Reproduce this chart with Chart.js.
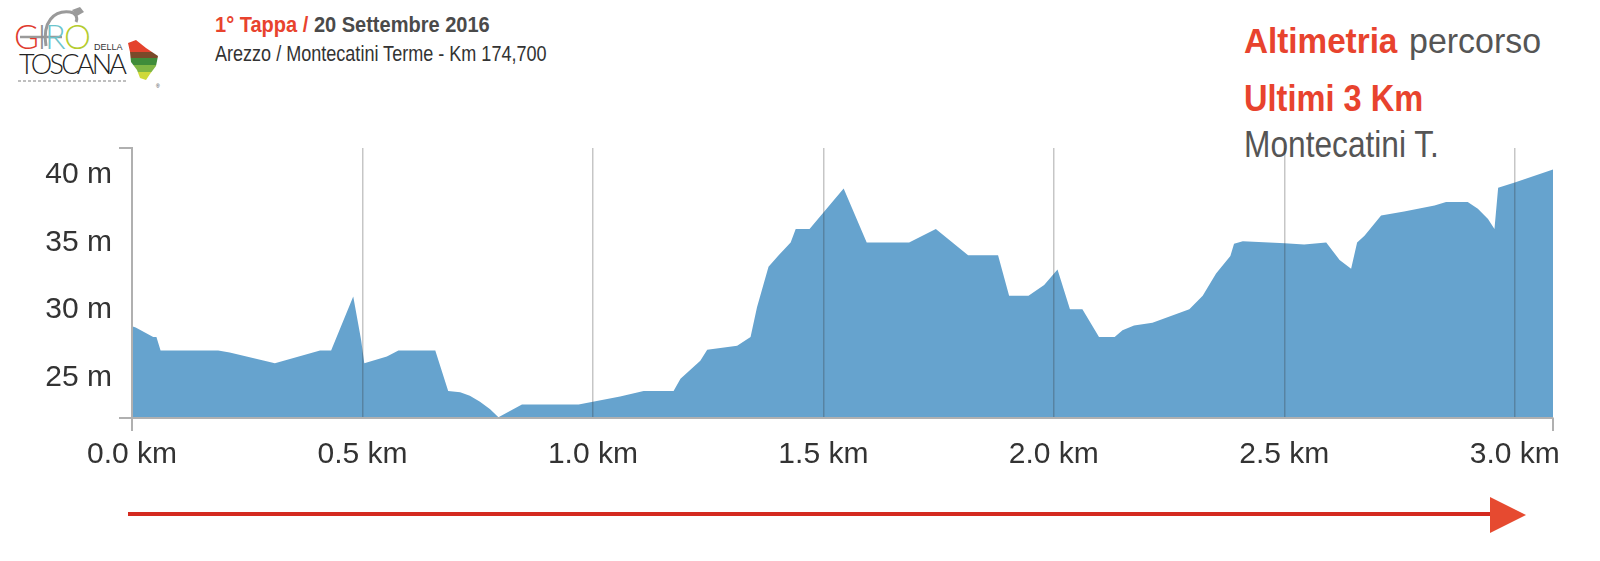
<!DOCTYPE html>
<html lang="it">
<head>
<meta charset="utf-8">
<title>Altimetria percorso · Ultimi 3 Km</title>
<script src="https://cdn.jsdelivr.net/npm/chart.js@4.4.1/dist/chart.umd.min.js"></script>
<style>
  html, body { margin: 0; padding: 0; background: #fff; }
  #page { position: relative; width: 1600px; height: 561px; overflow: hidden;
          font-family: 'Liberation Sans', Arial, sans-serif; }
  #wrap { position: absolute; left: 0; top: 0; width: 1600px; height: 561px; }
  .t { position: absolute; white-space: nowrap; transform-origin: 0 0; line-height: 1; }
  .red { color: #e8432e; }
  .grey { color: #555; }
</style>
</head>
<body>
<div id="page">
  <!-- logo -->
  <svg style="position:absolute;left:0;top:0" width="170" height="92">
    <path d="M46 46 C42 22 54 10 70 12 C76 13 78 18 76 22" fill="none" stroke="#9a9a9a" stroke-width="3"/>
    <path d="M72 10 l8 -3 l4 5 l-7 4 z" fill="#9a9a9a"/>
    <line x1="20" y1="37" x2="62" y2="37" stroke="#9a9a9a" stroke-width="2.5"/>
    <text x="14" y="49" font-family="Lato, 'Open Sans', sans-serif" font-weight="300" font-size="34" textLength="77">
      <tspan fill="#e03a2e">G</tspan><tspan fill="#8f8f8f">I</tspan><tspan fill="#6bc4cc">R</tspan><tspan fill="#b5cc2e">O</tspan>
    </text>
    <text x="94" y="50" font-family="'Liberation Sans', Arial" font-size="9" fill="#333">DELLA</text>
    <text x="19" y="74" font-family="Lato, 'Open Sans', sans-serif" font-weight="300" font-size="27" fill="#222" textLength="108">TOSCANA</text>
    <line x1="18" y1="81" x2="128" y2="81" stroke="#aaa" stroke-width="1.5" stroke-dasharray="3 2"/>
    <clipPath id="tus"><path d="M128 43 L136 40 L146 48 L158 56 L156 66 L150 74 L146 80 L140 78 L137 70 L131 62 L130 52 Z"/></clipPath>
    <g clip-path="url(#tus)">
      <rect x="126" y="38" width="34" height="14" fill="#e4432d"/>
      <rect x="126" y="52" width="34" height="6" fill="#7a4a2a"/>
      <rect x="126" y="58" width="34" height="7" fill="#3f8c3a"/>
      <rect x="126" y="65" width="34" height="7" fill="#7fb644"/>
      <rect x="126" y="72" width="34" height="10" fill="#cfd93a"/>
    </g>
    <text x="156" y="88" font-family="'Liberation Sans', Arial" font-size="5" fill="#333">®</text>
  </svg>

  <!-- intestazione -->
  <div class="t" style="left:215px;top:14px;font-size:22px;font-weight:bold;transform:scaleX(0.91)">
    <span class="red">1° Tappa /</span> <span style="color:#4a4a4a">20 Settembre 2016</span></div>
  <div class="t" style="left:215px;top:43px;font-size:22px;color:#333;transform:scaleX(0.82)">Arezzo / Montecatini Terme - Km 174,700</div>

  <div class="t red" style="left:1244px;top:23px;font-size:35px;font-weight:bold;transform:scaleX(0.95)">Altimetria</div>
  <div class="t grey" style="left:1409px;top:23px;font-size:35px;transform:scaleX(0.97)">percorso</div>
  <div class="t red" style="left:1244px;top:80px;font-size:37px;font-weight:bold;transform:scaleX(0.88)">Ultimi 3 Km</div>
  <div class="t grey" style="left:1244px;top:127px;font-size:36px;transform:scaleX(0.88)">Montecatini T.</div>

  <!-- freccia direzione -->
  <div style="position:absolute;left:128px;top:512px;width:1363px;height:4px;background:#d42a1f"></div>
  <div style="position:absolute;left:1490px;top:497px;width:0;height:0;border-top:18px solid transparent;border-bottom:18px solid transparent;border-left:36px solid #e64a30"></div>

  <div id="wrap"><canvas id="chart"></canvas></div>
</div>

<script>
// Profilo altimetrico ultimi 3 km
const distanceKm = [
  0, 0.008, 0.046, 0.053, 0.062, 0.187, 0.212, 0.31, 0.408, 0.432, 0.48, 0.497, 0.504, 0.553, 0.578,
  0.658, 0.686, 0.712, 0.733, 0.755, 0.777, 0.795, 0.846, 0.969, 1.059, 1.11, 1.175,
  1.19, 1.233, 1.248, 1.313, 1.342, 1.356, 1.381, 1.403, 1.429, 1.44, 1.47, 1.544,
  1.594, 1.686, 1.744, 1.814, 1.879, 1.903, 1.945, 1.979, 2.008, 2.035, 2.062, 2.098,
  2.132, 2.149, 2.174, 2.214, 2.294, 2.323, 2.352, 2.383, 2.391, 2.41, 2.501, 2.543,
  2.591, 2.62, 2.645, 2.658, 2.674, 2.71, 2.76, 2.826, 2.851, 2.898, 2.92, 2.942,
  2.956, 2.964, 3.0, 3.083,
];
const elevationM = [
  28.8, 28.7, 28.0, 28.0, 27.0, 27.0, 26.85, 26.05, 27.0, 27.0, 31.0, 27.8, 26.05, 26.55, 27.0,
  27.0, 24.0, 23.9, 23.65, 23.2, 22.65, 22.05, 23.0, 23.0, 23.6, 24.0, 24.0,
  24.9, 26.25, 27.05, 27.35, 28.0, 30.2, 33.2, 34.05, 35.0, 36.0, 36.0, 39.0,
  35.0, 35.0, 36.0, 34.05, 34.05, 31.05, 31.05, 31.85, 33.0, 30.05, 30.05, 28.0,
  28.0, 28.5, 28.85, 29.05, 30.05, 31.05, 32.7, 34.0, 34.9, 35.1, 34.95, 34.85,
  35.0, 33.7, 33.05, 35.0, 35.5, 37.0, 37.3, 37.75, 38.0, 38.0, 37.5, 36.75,
  36.0, 39.05, 39.45, 40.4,
];

const xTickValues = [0, 0.5, 1.0, 1.5, 2.0, 2.5, 3.0];
const xTickLabels = ['0.0 km', '0.5 km', '1.0 km', '1.5 km', '2.0 km', '2.5 km', '3.0 km'];
const yTickValues = [25, 30, 35, 40];
const yTickLabels = ['25 m', '30 m', '35 m', '40 m'];

const COLOR_FILL  = '#66a3ce';
const COLOR_AXIS  = '#b0b0b0';
const COLOR_GRID  = 'rgba(50,50,50,0.28)';
const COLOR_TICK  = '#333';
const TICK_FONT   = { family: "'Liberation Sans', Arial, sans-serif", size: 30 };

// tacche esterne agli estremi degli assi (stile d3)
const outerTicks = {
  id: 'outerTicks',
  afterDraw(chart) {
    const { ctx, chartArea: a } = chart;
    ctx.save();
    ctx.strokeStyle = COLOR_AXIS;
    ctx.lineWidth = 2;
    ctx.beginPath();
    ctx.moveTo(a.left - 13, a.top); ctx.lineTo(a.left, a.top);
    ctx.moveTo(a.left - 13, a.bottom); ctx.lineTo(a.left, a.bottom);
    ctx.moveTo(a.left, a.bottom); ctx.lineTo(a.left, a.bottom + 13);
    ctx.moveTo(a.right, a.bottom); ctx.lineTo(a.right, a.bottom + 13);
    ctx.stroke();
    ctx.restore();
  },
};

new Chart(document.getElementById('chart'), {
  type: 'line',
  data: {
    datasets: [{
      data: distanceKm.map((d, i) => ({ x: d, y: elevationM[i] })),
      fill: 'start',
      backgroundColor: COLOR_FILL,
      borderColor: COLOR_FILL,
      borderWidth: 0,
      pointRadius: 0,
      tension: 0,
    }],
  },
  options: {
    responsive: true,
    maintainAspectRatio: false,
    animation: false,
    events: [],
    layout: { padding: { left: 0, top: 148, right: 47, bottom: 93 } },
    plugins: { legend: { display: false }, tooltip: { enabled: false } },
    scales: {
      x: {
        type: 'linear',
        min: 0,
        max: 3.083,
        afterBuildTicks: s => { s.ticks = xTickValues.map(v => ({ value: v })); },
        afterFit: s => { s.height = 50; },
        grid: {
          z: 1,   // griglia sopra l'area, come nell'originale
          color: c => (c.tick && c.tick.value === 0 ? 'rgba(0,0,0,0)' : COLOR_GRID),
          lineWidth: 1.5,
          drawTicks: false,
        },
        border: { display: true, color: COLOR_AXIS, width: 2, z: 1 },
        ticks: {
          autoSkip: false,
          maxRotation: 0,
          padding: 19,
          color: COLOR_TICK,
          font: TICK_FONT,
          callback: v => xTickLabels[xTickValues.indexOf(v)],
        },
      },
      y: {
        min: 22,
        max: 42,
        afterBuildTicks: s => { s.ticks = yTickValues.map(v => ({ value: v })); },
        afterFit: s => { s.width = 132; },
        grid: { display: false, drawTicks: false },
        border: { display: true, color: COLOR_AXIS, width: 2, z: 1 },
        ticks: {
          padding: 20,
          color: COLOR_TICK,
          font: TICK_FONT,
          callback: v => yTickLabels[yTickValues.indexOf(v)],
        },
      },
    },
  },
  plugins: [outerTicks],
});
</script>
</body>
</html>
